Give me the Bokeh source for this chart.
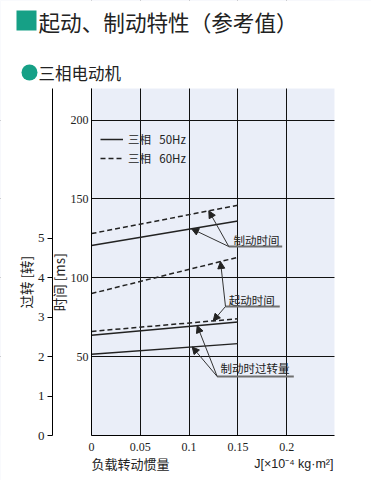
import numpy as np
from bokeh.plotting import figure
from bokeh.models import (Range1d, LinearAxis, FixedTicker, Arrow, NormalHead,
                          Legend, LegendItem, Grid)
from bokeh.embed import file_html
from bokeh.resources import INLINE
from bokeh.core.properties import value

# ---------------- data ----------------
J = [0.0, 0.15]                      # load inertia  [x10^-4 kg·m²]
brake_time_50 = [120.5, 136.0]       # ms, solid
brake_time_60 = [128.0, 146.0]       # ms, dashed
start_time_60_a = [90.0, 113.0]      # ms, dashed
start_time_60_b = [66.0, 74.0]       # ms, dashed
overrun_a = [2.54, 2.88]             # rev, solid
overrun_b = [2.06, 2.33]             # rev, solid

x_ticks = [0, 0.05, 0.1, 0.15, 0.2]
x_tick_labels = ["0", "0.05", "0.1", "0.15", "0.2"]
ms_ticks = [50, 100, 150, 200]
rev_ticks = [0, 1, 2, 3, 4, 5]

TITLE = "起动、制动特性（参考值）"
SUBTITLE = "三相电动机"
XLABEL_L = "负载转动惯量"
XLABEL_R = "J[×10⁻⁴ kg·m²]"
MS_LABEL = "时间 [ms]"
REV_LABEL = "过转 [转]"
LEG_50 = "三相 \u200250Hz"
LEG_60 = "三相 \u200260Hz"
PAD = "\u3000\u3000\u3000"   # trailing pad that lowers the rotated axis captions

# ---------------- styles / layout ----------------
CJK = "Noto Sans CJK SC"
NARROW = "Liberation Sans Narrow"
MIX = "Liberation Sans Narrow, Noto Sans CJK SC"
MIX2 = "Liberation Sans, Noto Sans CJK SC"
INK = "#222222"
GREEN = "#16a086"
BG = "#eaeef8"
X_MAX = 0.249
MS_MAX = 220
REV_PER_MS = 1 / 25.0

FIG_W, FIG_H = 371, 480
CHART_L, CHART_B, CHART_W, CHART_H = 91, 435, 243, 347   # chart area in canvas px


def px_x(cx):
    return (cx - CHART_L) / CHART_W * X_MAX


def px_y(cy):
    return (CHART_B - cy) / CHART_H * MS_MAX


Y0, Y1 = px_y(FIG_H), px_y(0)
X0, X1 = px_x(0), px_x(FIG_W)

p = figure(frame_width=FIG_W, frame_height=FIG_H,
           x_range=Range1d(X0, X1), y_range=Range1d(Y0, Y1),
           output_backend="svg", toolbar_location=None, min_border=0,
           background_fill_color=BG, border_fill_color="white", outline_line_color=None,
           x_axis_type=None, y_axis_type=None)
p.extra_y_ranges = {"rev": Range1d(Y0 * REV_PER_MS, Y1 * REV_PER_MS)}

# grid (only inside the chart area once the margins are painted white)
p.add_layout(Grid(dimension=0, ticker=FixedTicker(ticks=x_ticks),
                  grid_line_color="#111111", grid_line_width=1))
p.add_layout(Grid(dimension=1, ticker=FixedTicker(ticks=ms_ticks),
                  grid_line_color="#111111", grid_line_width=1))

# white margins around the chart area
p.quad(left=[X0, X0, X0, X_MAX], right=[0, X1, X1, X1],
       bottom=[Y0, MS_MAX, Y0, Y0], top=[Y1, Y1, 0, Y1],
       fill_color="white", line_color=None)

# x axis
xa = LinearAxis(ticker=FixedTicker(ticks=x_ticks), fixed_location=0, bounds=(0, X_MAX))
xa.major_label_overrides = {t: l for t, l in zip(x_ticks, x_tick_labels)}
xa.major_tick_out = 0
xa.major_tick_in = 0
xa.minor_tick_out = 0
xa.minor_tick_in = 0
xa.axis_line_color = "black"
xa.major_label_text_font = NARROW
xa.major_label_text_font_size = "12px"
xa.major_label_text_color = INK
xa.major_label_standoff = 7
p.add_layout(xa, "below")

# ms axis
ms_axis = LinearAxis(ticker=FixedTicker(ticks=ms_ticks), axis_label=MS_LABEL + PAD,
                     fixed_location=0, bounds=(0, MS_MAX))
ms_axis.major_tick_out = 0
ms_axis.major_tick_in = 0
ms_axis.minor_tick_out = 0
ms_axis.minor_tick_in = 0
ms_axis.axis_line_color = "black"
ms_axis.major_label_text_font = NARROW
ms_axis.major_label_text_font_size = "12px"
ms_axis.major_label_text_color = INK
ms_axis.major_label_standoff = 3
ms_axis.axis_label_text_font = CJK
ms_axis.axis_label_text_font_size = "13.5px"
ms_axis.axis_label_text_font_style = "normal"
ms_axis.axis_label_text_color = INK
ms_axis.axis_label_standoff = -1
p.add_layout(ms_axis, "left")

# rev axis
rev_axis = LinearAxis(y_range_name="rev", ticker=FixedTicker(ticks=rev_ticks),
                      axis_label=REV_LABEL + PAD, fixed_location=px_x(52),
                      bounds=(0, MS_MAX * REV_PER_MS))
rev_axis.major_tick_out = 5
rev_axis.major_tick_in = 0
rev_axis.minor_tick_out = 0
rev_axis.minor_tick_in = 0
rev_axis.axis_line_color = "black"
rev_axis.major_tick_line_color = "black"
rev_axis.major_label_text_font = NARROW
rev_axis.major_label_text_font_size = "13px"
rev_axis.major_label_text_color = INK
rev_axis.major_label_standoff = 3
rev_axis.axis_label_text_font = CJK
rev_axis.axis_label_text_font_size = "13.5px"
rev_axis.axis_label_text_font_style = "normal"
rev_axis.axis_label_text_color = INK
rev_axis.axis_label_standoff = -1
p.add_layout(rev_axis, "left")

# data lines
DASH = "5 3"
r50 = p.line(J, brake_time_50, line_color=INK, line_width=1.5)
r60 = p.line(J, brake_time_60, line_color=INK, line_width=1.5, line_dash=DASH)
p.line(J, start_time_60_a, line_color=INK, line_width=1.5, line_dash=DASH)
p.line(J, start_time_60_b, line_color=INK, line_width=1.5, line_dash=DASH)
p.line(J, overrun_a, line_color=INK, line_width=1.5, y_range_name="rev")
p.line(J, overrun_b, line_color=INK, line_width=1.5, y_range_name="rev")

# legend
leg = Legend(items=[LegendItem(label=LEG_50, renderers=[r50]),
                    LegendItem(label=LEG_60, renderers=[r60])],
             location=(100, FIG_H - 166), glyph_width=23, glyph_height=16,
             label_height=16, spacing=3, padding=0, margin=0, label_standoff=5,
             label_text_font=MIX, label_text_font_size="11.5px", label_text_color=INK,
             background_fill_alpha=0, border_line_alpha=0)
p.add_layout(leg)

# annotations
def ms_to(rng, v):
    return v * REV_PER_MS if rng == "rev" else v

annotations = [
    ("制动时间", 0.1455, 124.0, 0.1407, 0.1954, 119.8, "default",
     [(0.1202, brake_time_60), (0.1025, brake_time_50)]),
    ("起动时间", 0.1407, 86.2, 0.1373, 0.1929, 81.8, "default",
     [(0.1322, start_time_60_a), (0.1247, start_time_60_b)]),
    ("制动时过转量", 0.1322, 42.5, 0.1288, 0.2073, 37.4, "rev",
     [(0.1083, overrun_a), (0.1032, overrun_b)]),
]
for txt, tx, ty, ux0, ux1, uy, rng, tips in annotations:
    p.text(x=[tx], y=[ty], text=[txt], text_font=value(CJK), text_font_size="11.5px",
           text_baseline="middle", text_align="left", text_color=INK)
    p.segment(x0=[ux0], y0=[uy], x1=[ux1], y1=[uy], line_color="#6f6f6f", line_width=2)
    for tip_x, series in tips:
        tip_y = float(np.interp(tip_x, J, series))
        p.add_layout(Arrow(end=NormalHead(size=7, fill_color=INK, line_color=INK),
                           x_start=ux0, y_start=ms_to(rng, uy), x_end=tip_x, y_end=tip_y,
                           y_range_name=rng, line_color="#333333", line_width=1))

# header
p.quad(left=[px_x(16)], right=[px_x(36)], top=[px_y(10)], bottom=[px_y(30)],
       fill_color=GREEN, line_color=None)
p.scatter(x=[px_x(29)], y=[px_y(72)], size=16, marker="circle",
          fill_color=GREEN, line_color=None)
p.text(x=[px_x(38)], y=[px_y(20.5)], text=[TITLE], text_font=value(CJK),
       text_font_size="21.6px", text_baseline="middle", text_color=INK)
p.text(x=[px_x(38)], y=[px_y(72)], text=[SUBTITLE], text_font=value(CJK),
       text_font_size="16.5px", text_baseline="middle", text_color=INK)

# x axis captions
p.text(x=[px_x(91)], y=[px_y(463)], text=[XLABEL_L], text_font=value(CJK),
       text_font_size="13px", text_baseline="middle", text_align="left", text_color=INK)
p.text(x=[px_x(333)], y=[px_y(463)], text=[XLABEL_R], text_font=value(MIX2),
       text_font_size="12.5px", text_baseline="middle", text_align="right", text_color=INK)

open("out.html", "w").write(file_html(p, INLINE))
